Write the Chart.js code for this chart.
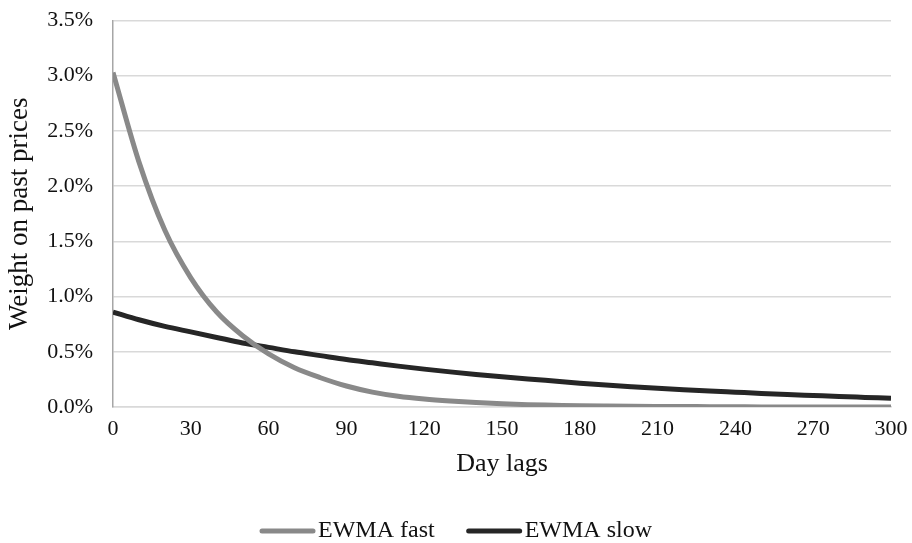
<!DOCTYPE html>
<html>
<head>
<meta charset="utf-8">
<script src="https://cdn.jsdelivr.net/npm/chart.js@4/dist/chart.umd.min.js"></script>
<style>
  html, body { margin: 0; padding: 0; background: #fff; }
  #wrap { width: 912px; height: 543px; }
</style>
</head>
<body>
<div id="wrap"><canvas id="ewmaChart" width="912" height="543"></canvas></div>
<script>
// day lags (x) and weights in %
const lags = [0, 10, 20, 30, 40, 50, 60, 70, 80, 90, 100, 110, 120, 130, 140, 150,
  160, 170, 180, 190, 200, 210, 220, 230, 240, 250, 260, 270, 280, 290, 300];
const fastWeights = [3.03, 2.22, 1.60, 1.17, 0.86, 0.645, 0.48, 0.355, 0.265, 0.19, 0.135,
  0.097, 0.072, 0.054, 0.040, 0.029, 0.021, 0.016, 0.011, 0.008, 0.006, 0.005, 0.004,
  0.003, 0.002, 0.001, 0.001, 0.001, 0.000, 0.000, 0.000];
const slowWeights = [0.86, 0.79, 0.73, 0.68, 0.63, 0.58, 0.54, 0.50, 0.465, 0.43, 0.40,
  0.37, 0.343, 0.318, 0.295, 0.274, 0.254, 0.235, 0.216, 0.199, 0.184, 0.170, 0.157,
  0.145, 0.134, 0.123, 0.113, 0.104, 0.095, 0.087, 0.079];
const xTicks = [0, 30, 60, 90, 120, 150, 180, 210, 240, 270, 300];

const FONT = "'Liberation Serif', 'Times New Roman', serif";
const pts = (ys) => lags.map((d, i) => ({ x: d, y: ys[i] }));

// legend drawn by hand: line swatch then text, row centred under the chart
const lineLegend = {
  id: 'lineLegend',
  afterDraw(chart) {
    const ctx = chart.ctx;
    const sets = chart.data.datasets;
    const sw = 55, gapText = 3, gapItem = 32, y = 531;
    ctx.save();
    ctx.font = '24px ' + FONT;
    ctx.textBaseline = 'middle';
    const widths = sets.map(d => sw + gapText + ctx.measureText(d.label).width);
    const total = widths.reduce((a, b) => a + b, 0) + gapItem * (sets.length - 1);
    let x = (chart.width - total) / 2;
    sets.forEach((d, i) => {
      ctx.strokeStyle = d.borderColor;
      ctx.lineWidth = 5;
      ctx.lineCap = 'round';
      ctx.beginPath();
      ctx.moveTo(x + 2, y);
      ctx.lineTo(x + sw - 2, y);
      ctx.stroke();
      ctx.fillStyle = '#111';
      ctx.fillText(d.label, x + sw + gapText, y);
      x += widths[i] + gapItem;
    });
    ctx.restore();
  }
};

new Chart(document.getElementById('ewmaChart'), {
  type: 'line',
  data: {
    datasets: [{
      label: 'EWMA fast',
      data: pts(fastWeights),
      borderColor: '#898989',
      borderWidth: 5, pointRadius: 0, cubicInterpolationMode: 'monotone'
    }, {
      label: 'EWMA slow',
      data: pts(slowWeights),
      borderColor: '#262626',
      borderWidth: 5, pointRadius: 0, cubicInterpolationMode: 'monotone'
    }]
  },
  options: {
    responsive: false,
    animation: false,
    layout: { padding: { top: 20.5, right: 21, bottom: 63, left: 0 } },
    plugins: {
      legend: { display: false },
      tooltip: { enabled: false }
    },
    scales: {
      x: {
        type: 'linear', min: 0, max: 300,
        afterBuildTicks: (ax) => { ax.ticks = xTicks.map(v => ({ value: v })); },
        afterFit: (ax) => { ax.height = 73; ax.paddingLeft = 0; ax.paddingRight = 0; },
        grid: { display: false, drawTicks: false },
        border: { color: '#d9d9d9', width: 1.5 },
        ticks: { font: { family: FONT, size: 22 }, color: '#111', padding: 9, maxRotation: 0 },
        title: { display: true, text: 'Day lags', font: { family: FONT, size: 26 }, color: '#111', padding: 0 }
      },
      y: {
        min: 0, max: 3.5,
        afterFit: (ax) => { ax.width = 113; ax.paddingTop = 0; ax.paddingBottom = 0; },
        grid: { color: '#d9d9d9', lineWidth: 1.5, drawTicks: false },
        border: { color: '#a6a6a6', width: 1.5 },
        ticks: {
          stepSize: 0.5, padding: 20,
          font: { family: FONT, size: 22 }, color: '#111',
          callback: (v) => v.toFixed(1) + '%'
        },
        title: { display: true, text: 'Weight on past prices', font: { family: FONT, size: 27 }, color: '#111', padding: { top: 4 } }
      }
    }
  },
  plugins: [lineLegend]
});
</script>
</body>
</html>
